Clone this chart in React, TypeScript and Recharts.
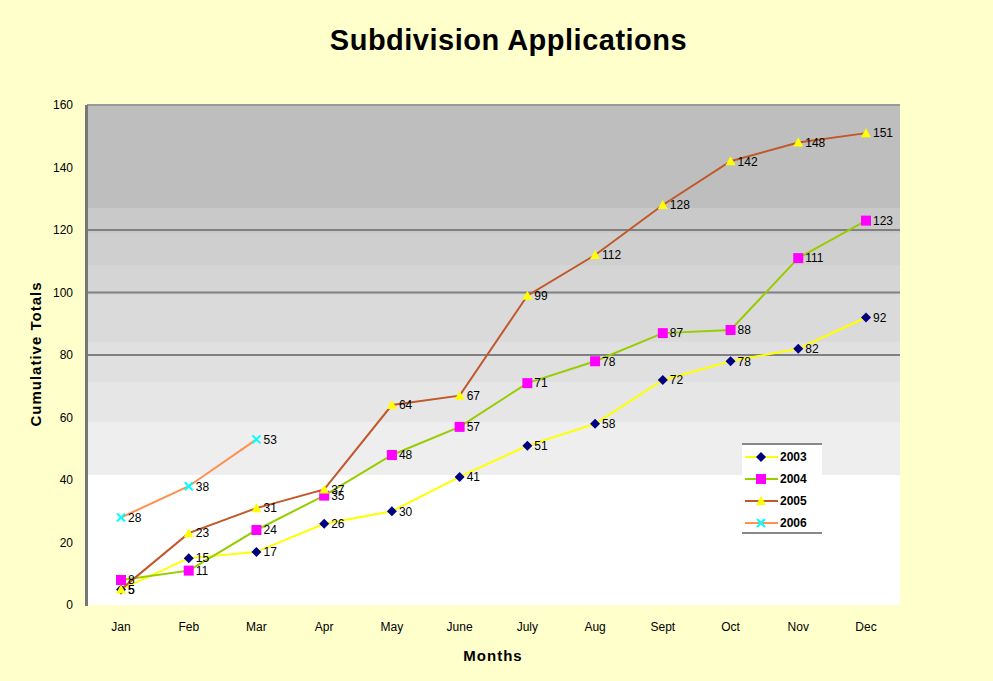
import { LineChart, Line, XAxis, YAxis, ReferenceLine, LabelList } from 'recharts';

const months = ['Jan', 'Feb', 'Mar', 'Apr', 'May', 'June', 'July', 'Aug', 'Sept', 'Oct', 'Nov', 'Dec'];
const y2003 = [5, 15, 17, 26, 30, 41, 51, 58, 72, 78, 82, 92];
const y2004 = [8, 11, 24, 35, 48, 57, 71, 78, 87, 88, 111, 123];
const y2005 = [5, 23, 31, 37, 64, 67, 99, 112, 128, 142, 148, 151];
const y2006 = [28, 38, 53];
const yTicks = [0, 20, 40, 60, 80, 100, 120, 140, 160];
const gridValues = [80, 100, 120];

const data = months.map((m, i) => ({
  month: m,
  s2003: y2003[i],
  s2004: y2004[i],
  s2005: y2005[i],
  s2006: i < y2006.length ? y2006[i] : null,
}));

const FONT = '"Liberation Sans", Arial, sans-serif';

// stepped grey fill of the plot area, darker towards the top
const plotBg =
  'linear-gradient(to bottom, #BEBEBE 0%, #BEBEBE 20.6%, #C9C9C9 20.6%, #C9C9C9 25.6%, #CFCFCF 25.6%, #CFCFCF 32%, ' +
  '#D5D5D5 32%, #D5D5D5 38%, #DADADA 38%, #DADADA 47.4%, #E0E0E0 47.4%, #E0E0E0 55.4%, #E6E6E6 55.4%, #E6E6E6 63.4%, ' +
  '#EEEEEE 63.4%, #EEEEEE 74%, #FFFFFF 74%, #FFFFFF 100%)';

const Diamond = (props: any) => {
  const { cx, cy } = props;
  if (cx == null || cy == null) return null;
  return <path d={`M${cx},${cy - 5}L${cx + 5},${cy}L${cx},${cy + 5}L${cx - 5},${cy}Z`} fill="#000080" />;
};
const Square = (props: any) => {
  const { cx, cy } = props;
  if (cx == null || cy == null) return null;
  return <rect x={cx - 5} y={cy - 5} width={10} height={10} fill="#FF00FF" />;
};
const Triangle = (props: any) => {
  const { cx, cy } = props;
  if (cx == null || cy == null) return null;
  return <path d={`M${cx},${cy - 5}L${cx + 5},${cy + 4}L${cx - 5},${cy + 4}Z`} fill="#FFFF00" />;
};
const Cross = (props: any) => {
  const { cx, cy } = props;
  if (cx == null || cy == null) return null;
  return (
    <path d={`M${cx - 4},${cy - 4}L${cx + 4},${cy + 4}M${cx - 4},${cy + 4}L${cx + 4},${cy - 4}`} stroke="#00FFFF" strokeWidth={2} />
  );
};

const series = [
  { key: 's2003', name: '2003', color: '#FFFF00', dot: Diamond },
  { key: 's2004', name: '2004', color: '#99CC00', dot: Square },
  { key: 's2005', name: '2005', color: '#C0582A', dot: Triangle },
  { key: 's2006', name: '2006', color: '#FF9050', dot: Cross },
];

const LegendBox = () => (
  <div style={{ position: 'absolute', left: 742, top: 443, width: 80, height: 91, background: '#fff', borderTop: '2px solid #888', borderBottom: '2px solid #888', boxSizing: 'border-box', paddingTop: 1 }}>
    {series.map((s) => {
      const D = s.dot;
      return (
        <div key={s.key} style={{ display: 'flex', alignItems: 'center', height: 22 }}>
          <svg width={38} height={14}>
            <line x1={3} x2={36} y1={7} y2={7} stroke={s.color} strokeWidth={2} />
            <D cx={19} cy={7} />
          </svg>
          <span style={{ fontFamily: FONT, fontSize: 12, fontWeight: 'bold', color: '#000' }}>{s.name}</span>
        </div>
      );
    })}
  </div>
);

export default function App() {
  return (
    <div style={{ position: 'fixed', left: 0, top: 0, width: 993, height: 681, background: '#FFFFCC', fontFamily: FONT }}>
      <div style={{ position: 'absolute', left: 87, top: 105, width: 813, height: 500, background: plotBg }} />
      <div style={{ position: 'absolute', left: 0, width: 993, top: 24, textAlign: 'center', fontSize: 29, fontWeight: 'bold', letterSpacing: 0.5, paddingLeft: 12 }}>
        Subdivision Applications
      </div>
      <div style={{ position: 'absolute', left: 493, top: 647, transform: 'translateX(-50%)', fontSize: 15, fontWeight: 'bold', letterSpacing: 1 }}>
        Months
      </div>
      <div style={{ position: 'absolute', left: 35, top: 354, fontSize: 15, fontWeight: 'bold', letterSpacing: 1, transform: 'translate(-50%, -50%) rotate(-90deg)', whiteSpace: 'nowrap' }}>
        Cumulative Totals
      </div>
      <div style={{ position: 'absolute', left: 0, top: 0 }}>
        <LineChart width={993} height={681} data={data} margin={{ top: 105, right: 93, left: 47, bottom: 46 }}>
          <XAxis dataKey="month" axisLine={false} tickLine={false} padding={{ left: 34, right: 34 }} tick={{ fontSize: 12, fill: '#000', fontFamily: FONT }} height={30} tickMargin={11} />
          <YAxis domain={[0, 160]} ticks={yTicks} width={40} axisLine={false} tickLine={false} tick={{ fontSize: 12, fill: '#000', fontFamily: FONT }} tickMargin={8} />
          <ReferenceLine y={160} stroke="#999" strokeWidth={2} />
          {gridValues.map((v) => (
            <ReferenceLine key={v} y={v} stroke="#808080" strokeWidth={2} />
          ))}
          {series.map((s) => (
            <Line
              key={s.key}
              dataKey={s.key}
              name={s.name}
              stroke={s.color}
              strokeWidth={2}
              dot={<s.dot />}
              activeDot={false}
              isAnimationActive={false}
              connectNulls={false}
            >
              <LabelList dataKey={s.key} position="right" offset={7} style={{ fontSize: 12, fill: '#000', fontFamily: FONT }} />
            </Line>
          ))}
        </LineChart>
      </div>
      <div style={{ position: 'absolute', left: 85, top: 105, width: 3, height: 501, background: '#777' }} />
      <LegendBox />
    </div>
  );
}
